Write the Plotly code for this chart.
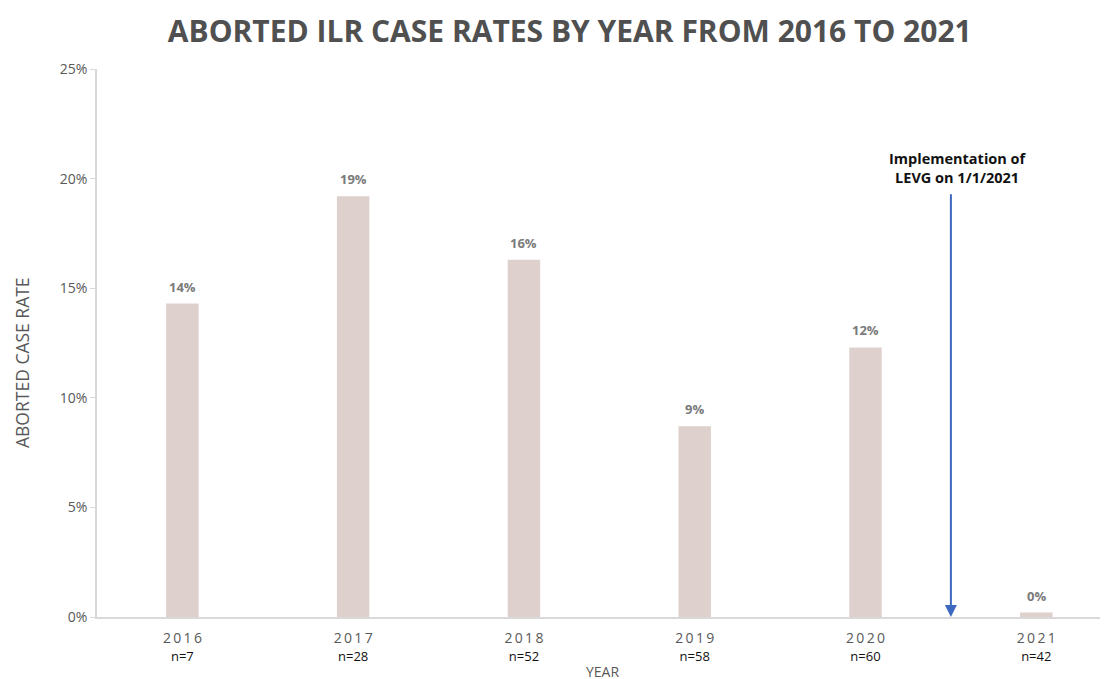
import plotly.graph_objects as go

years = ["2016", "2017", "2018", "2019", "2020", "2021"]
n_cases = [7, 28, 52, 58, 60, 42]
rates = [14.3, 19.2, 16.3, 8.7, 12.3, 0.2]
labels = ["14%", "19%", "16%", "9%", "12%", "0%"]
y_ticks = [0, 5, 10, 15, 20, 25]
y_tick_text = ["0%", "5%", "10%", "15%", "20%", "25%"]

event_x = 4.5
event_top = 19.35
event_text = "Implementation of<br>LEVG on 1/1/2021"

xi = list(range(len(years)))
tick_text = [
    "\u2009".join(y) + "<br><span style='color:#111111;font-size:13px'>n=%d</span>" % n
    for y, n in zip(years, n_cases)
]

fig = go.Figure()
fig.add_trace(go.Bar(
    x=xi, y=rates, width=0.19,
    marker=dict(color="#DDD0CD", line=dict(width=0)),
))
for x, r, t in zip(xi, rates, labels):
    fig.add_annotation(
        x=x, y=r, xref="x", yref="y", text="<b>%s</b>" % t, showarrow=False,
        yanchor="bottom", yshift=6,
        font=dict(family="Open Sans", size=13, color="#7A7A7A"),
    )

fig.add_annotation(
    x=event_x, y=0, ax=event_x, ay=event_top,
    xref="x", yref="y", axref="x", ayref="y",
    showarrow=True, arrowhead=2, arrowsize=1.2, arrowwidth=2,
    arrowcolor="#3C68BF", text="",
)
fig.add_annotation(
    x=event_x + 0.04, y=event_top, xref="x", yref="y",
    text="<b>" + event_text + "</b>", showarrow=False,
    yanchor="bottom", yshift=4,
    font=dict(family="Open Sans", size=14.5, color="#111111"),
)
# axis titles
fig.add_annotation(
    x=0.5, y=-0.1, xref="paper", yref="paper", text="YEAR", showarrow=False,
    xanchor="center", yanchor="middle",
    font=dict(family="Open Sans", size=14, color="#595959"),
)
fig.add_annotation(
    x=0, y=0.4635, xref="paper", yref="paper", text="ABORTED CASE RATE", showarrow=False,
    xanchor="center", yanchor="middle", xshift=-75, textangle=-90,
    font=dict(family="Open Sans", size=17.5, color="#595959"),
)

fig.update_layout(
    width=1108, height=679,
    paper_bgcolor="white", plot_bgcolor="white",
    margin=dict(l=89, r=8, t=61, b=70, autoexpand=False),
    showlegend=False,
    title=dict(
        text="<b>ABORTED ILR CASE RATES BY YEAR FROM 2016 TO 2021</b>",
        x=0.507, xanchor="center", y=0.966, yanchor="middle",
        font=dict(family="Liberation Sans Narrow, Open Sans", size=30, color="#505050"),
    ),
    xaxis=dict(
        range=[-0.5, 5.42], tickvals=xi, ticktext=tick_text,
        showline=True, linecolor="#D9D9D9", linewidth=1.5,
        showgrid=False, zeroline=False, ticks="", automargin=False,
        ticklabelstandoff=7,
        tickfont=dict(family="Open Sans", size=14, color="#595959"),
        fixedrange=True,
    ),
    yaxis=dict(
        range=[0, 25], tickvals=y_ticks, ticktext=y_tick_text,
        showline=True, linecolor="#D9D9D9", linewidth=1.5,
        showgrid=False, zeroline=False, ticks="outside", ticklen=5, tickcolor="#D9D9D9",
        automargin=False,
        tickfont=dict(family="Open Sans", size=14, color="#595959"),
    ),
)

fig.write_html("out.html")
